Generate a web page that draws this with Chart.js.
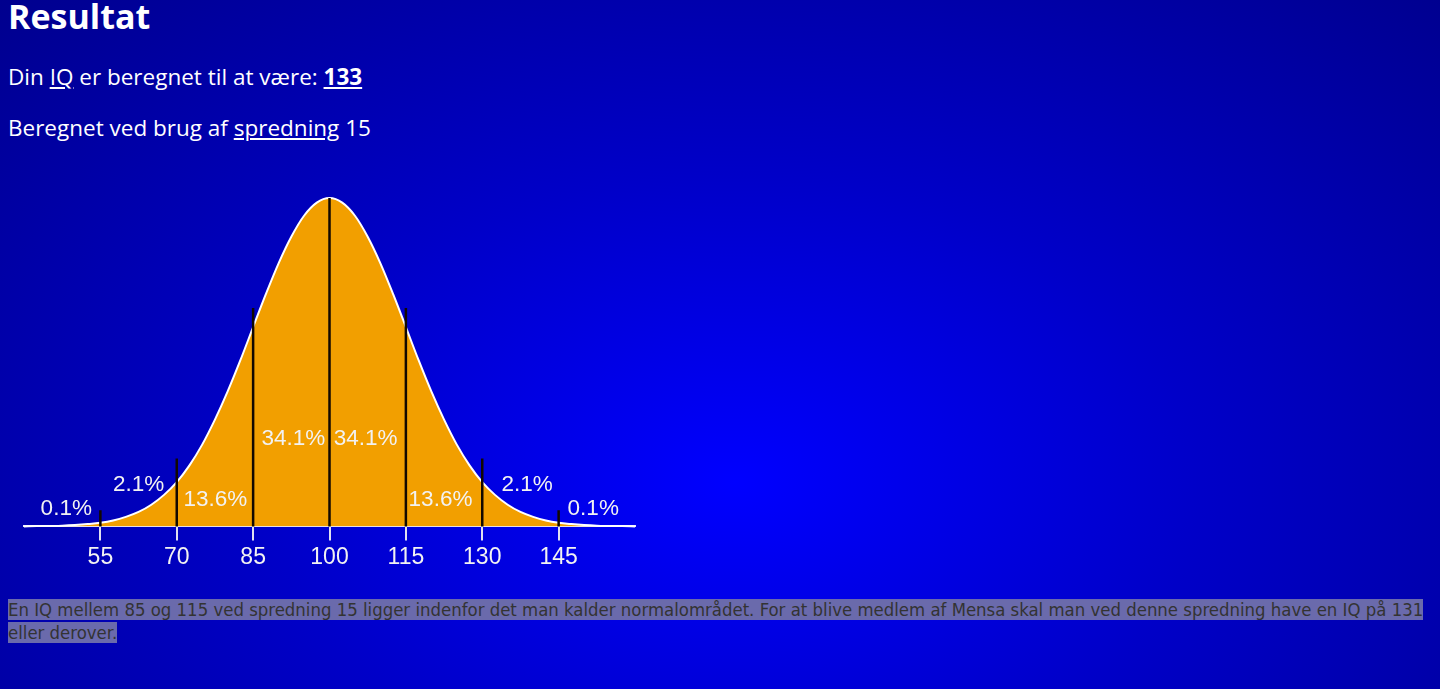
<!DOCTYPE html>
<html lang="da">
<head>
<meta charset="utf-8">
<title>Resultat</title>
<script src="https://cdn.jsdelivr.net/npm/chart.js@4"></script>
<style>
  html, body { margin: 0; padding: 0; }
  body {
    width: 1440px; height: 689px; overflow: hidden; position: relative;
    background: radial-gradient(ellipse at 51% 70%, #0000ff 0%, #0000c8 45%, #00008e 100%);
    color: #fff;
    font-family: "Open Sans", "Noto Sans", sans-serif;
  }
  h1 { position: absolute; left: 8px; top: -7px; margin: 0; font-size: 34px; font-weight: 700; }
  .line { position: absolute; left: 8px; margin: 0; font-size: 22.5px; }
  .line a { color: #fff; }
  #l1 { top: 61px; }
  #l2 { top: 112px; }
  #chartBox { position: absolute; left: 12px; top: 186px; width: 633px; height: 388px; }
  #note {
    position: absolute; left: 8px; top: 598px; width: 1432px; margin: 0;
    font-family: "Liberation Sans Narrow", "DejaVu Sans Condensed", sans-serif;
    font-size: 18.4px; line-height: 23px; color: #333;
  }
  #note span { background: #6a6aac; }
</style>
</head>
<body>
<h1>Resultat</h1>
<p class="line" id="l1">Din <a href="#">IQ</a> er beregnet til at være: <a href="#"><b>133</b></a></p>
<p class="line" id="l2">Beregnet ved brug af <a href="#">spredning</a> 15</p>
<div id="chartBox"><canvas id="chart"></canvas></div>
<p id="note"><span>En IQ mellem 85 og 115 ved spredning 15 ligger indenfor det man kalder normalområdet. For at blive medlem af Mensa skal man ved denne spredning have en IQ på 131 eller derover.</span></p>

<script>
// IQ values along the axis and curve height (peak = 1)
var iqValues = [40, 42.5, 45, 47.5, 50, 52.5, 55, 57.5, 60, 62.5, 65, 67.5, 70, 72.5, 75, 77.5, 80, 82.5, 85, 87.5, 90, 92.5, 95, 97.5,
  100, 102.5, 105, 107.5, 110, 112.5, 115, 117.5, 120, 122.5, 125, 127.5, 130, 132.5, 135, 137.5, 140, 142.5, 145, 147.5, 150, 152.5, 155, 157.5, 160];
var curveHeights = [0.000, 0.001, 0.001, 0.002, 0.004, 0.007, 0.011, 0.018, 0.029, 0.044, 0.066, 0.096, 0.135, 0.186, 0.249, 0.325, 0.411, 0.506, 0.607, 0.707, 0.801, 0.882, 0.946, 0.986,
  1.000, 0.986, 0.946, 0.882, 0.801, 0.707, 0.607, 0.506, 0.411, 0.325, 0.249, 0.186, 0.135, 0.096, 0.066, 0.044, 0.029, 0.018, 0.011, 0.007, 0.004, 0.002, 0.001, 0.001, 0.000];

// tick labels and the black marker lines
var tickValues = [55, 70, 85, 100, 115, 130, 145];
var markerTops = [0.049, 0.207, 0.665, 1.000, 0.665, 0.207, 0.049];

// percentage labels
var pctTexts = ['0.1%', '2.1%', '13.6%', '34.1%', '34.1%', '13.6%', '2.1%', '0.1%'];
var pctX = [48.3, 62.5, 77.6, 92.9, 107.1, 121.8, 138.8, 151.8];
var pctY = [0.055, 0.128, 0.082, 0.268, 0.268, 0.082, 0.128, 0.055];

var curveData = iqValues.map(function(x, i) { return { x: x, y: curveHeights[i] }; });
var markerData = [];
tickValues.forEach(function(x, i) {
  markerData.push({ x: x, y: 0 });
  markerData.push({ x: x, y: markerTops[i] });
  markerData.push({ x: x, y: null });
});

var pctLabels = {
  id: 'pctLabels',
  afterDatasetsDraw: function(chart) {
    var ctx = chart.ctx, xs = chart.scales.x, ys = chart.scales.y;
    ctx.save();
    ctx.font = '22.5px "Liberation Sans", Arial, sans-serif';
    ctx.fillStyle = '#f2f2f2';
    ctx.textAlign = 'center';
    ctx.textBaseline = 'middle';
    pctTexts.forEach(function(t, i) {
      ctx.fillText(t, xs.getPixelForValue(pctX[i]), ys.getPixelForValue(pctY[i]));
    });
    ctx.restore();
  }
};

new Chart(document.getElementById('chart'), {
  type: 'line',
  data: {
    datasets: [{
      data: markerData,
      borderColor: '#120800',
      borderWidth: 2.5,
      pointRadius: 0,
      fill: false,
      spanGaps: false,
      order: 0
    }, {
      data: curveData,
      borderColor: '#ffffff',
      borderWidth: 2,
      backgroundColor: '#f29f00',
      fill: 'origin',
      pointRadius: 0,
      cubicInterpolationMode: 'monotone',
      order: 1
    }]
  },
  options: {
    responsive: true,
    maintainAspectRatio: false,
    animation: false,
    clip: false,
    layout: { padding: { left: 12, right: 10, top: 12, bottom: 0 } },
    plugins: { legend: { display: false }, tooltip: { enabled: false } },
    scales: {
      x: {
        type: 'linear',
        min: 40,
        max: 160,
        afterBuildTicks: function(axis) {
          axis.ticks = tickValues.map(function(v) { return { value: v }; });
        },
        border: { color: '#e8e8ff', width: 2 },
        grid: { drawOnChartArea: false, drawTicks: true, tickLength: 14, color: '#e0e0f0', lineWidth: 2 },
        ticks: {
          color: '#f2f2f2',
          padding: 3,
          maxRotation: 0,
          autoSkip: false,
          font: { family: '"Liberation Sans", Arial, sans-serif', size: 23 }
        }
      },
      y: { display: false, min: 0, max: 1 }
    }
  },
  plugins: [pctLabels]
});
</script>
</body>
</html>
